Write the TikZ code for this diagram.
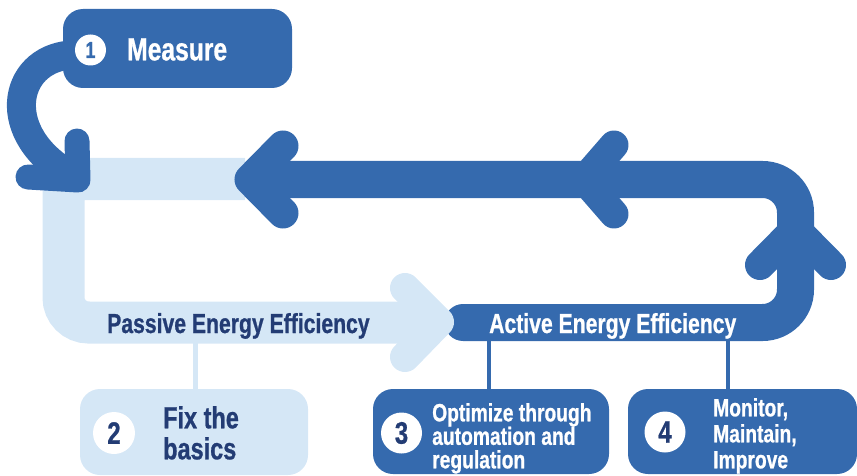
\documentclass[tikz,border=0pt]{standalone}
\usepackage{fontspec}
\newfontface\cf[FakeStretch=0.77, FakeBold=0.8]{Liberation Sans Bold}
\definecolor{dblue}{HTML}{356AAE}
\definecolor{lblue}{HTML}{D5E7F6}
\definecolor{navy}{HTML}{233C74}
\begin{document}
\begin{tikzpicture}[x=1pt,y=-1pt,
  box/.style={rounded corners=20pt, inner sep=0pt, draw=none},
  circ/.style={circle, fill=white, inner sep=0pt},
  chev/.style={line cap=round, line join=round},
  conn/.style={line width=4.5pt},
  lbl/.style={inner sep=0pt, font=\cf\fontsize{27.5}{27.5}\selectfont},
  boxtxt/.style={inner sep=0pt, anchor=north west, align=left}]
\useasboundingbox (0,0) rectangle (857,476);

% active (dark) loop
\draw[dblue, line width=37pt, rounded corners=33pt, line cap=round]
  (463,322.5) -- (795.5,322.5) -- (795.5,179.5) -- (255,179.5);

% passive (light) loop
\draw[lblue, line width=42pt, line join=miter]
  (245,179) -- (63.5,179) -- (63.5,297.5)
  .. controls (63.5,311.3) and (74.7,322.5) .. (88.5,322.5) -- (425,322.5);
\draw[lblue, line width=30pt, chev] (405,288) -- (439,322) -- (405,357);

% dark arrowheads
\draw[dblue, line width=31pt, chev] (283,146) -- (250,179.5) -- (283,213);
\draw[dblue, line width=29pt, chev] (614,145) -- (584,179.5) -- (614,214);
\draw[dblue, line width=30pt, chev] (760,265) -- (795.5,229) -- (831,265);

% measure box and curved arrow
\draw[dblue, line width=29pt] (70,55) .. controls (12,60) and (-2,135) .. (72,176);
\draw[dblue, line width=25pt, chev] (77,141) -- (78,180) -- (28,177);
\node[box, fill=dblue, minimum width=229pt, minimum height=79pt] (m) at (177.5,48.5) {};
\node[circ, minimum size=31pt, text=dblue, font=\cf\fontsize{23}{23}\selectfont] (c1) at (90.5,50) {1};
\node[inner sep=0pt, anchor=west, text=white, font=\cf\fontsize{32}{32}\selectfont] (t1) at (127,49.5) {Measure};

% band labels
\node[lbl, anchor=base west, text=navy] (pl) at (107,333) {Passive Energy Efficiency};
\node[lbl, anchor=base west, text=white] (al) at (489,333) {Active Energy Efficiency};

% boxes
\node[box, fill=lblue, minimum width=228pt, minimum height=86pt] (b2) at (194,432) {};
\node[box, fill=dblue, minimum width=236pt, minimum height=85pt] (b3) at (491,431.5) {};
\node[box, fill=dblue, minimum width=229pt, minimum height=85pt] (b4) at (742.5,431.5) {};

% connectors
\coordinate (p2) at (195,340);
\coordinate (p3) at (489,340);
\coordinate (p4) at (728,340);
\draw[lblue, line width=5pt] (p2) -- (p2 |- b2.north);
\draw[dblue, conn] (p3) -- (p3 |- b3.north);
\draw[dblue, conn] (p4) -- (p4 |- b4.north);

% circles
\node[circ, minimum size=42pt, text=navy, font=\cf\fontsize{31}{31}\selectfont] (c2) at (114,433) {2};
\node[circ, minimum size=41pt, text=navy, font=\cf\fontsize{31}{31}\selectfont] (c3) at (401.5,433) {3};
\node[circ, minimum size=41pt, text=navy, font=\cf\fontsize{31}{31}\selectfont] (c4) at (665,432) {4};

% box texts
\node[boxtxt, text=navy, font=\cf\fontsize{30.5}{31}\selectfont] (t2) at (163,406) {Fix the\\basics};
\node[boxtxt, text=white, font=\cf\fontsize{25}{23.5}\selectfont] (t3) at (432,403) {Optimize through\\automation and\\regulation};
\node[boxtxt, text=white, font=\cf\fontsize{25}{26}\selectfont] (t4) at (713,398) {Monitor,\\Maintain,\\Improve};
\end{tikzpicture}
\end{document}
